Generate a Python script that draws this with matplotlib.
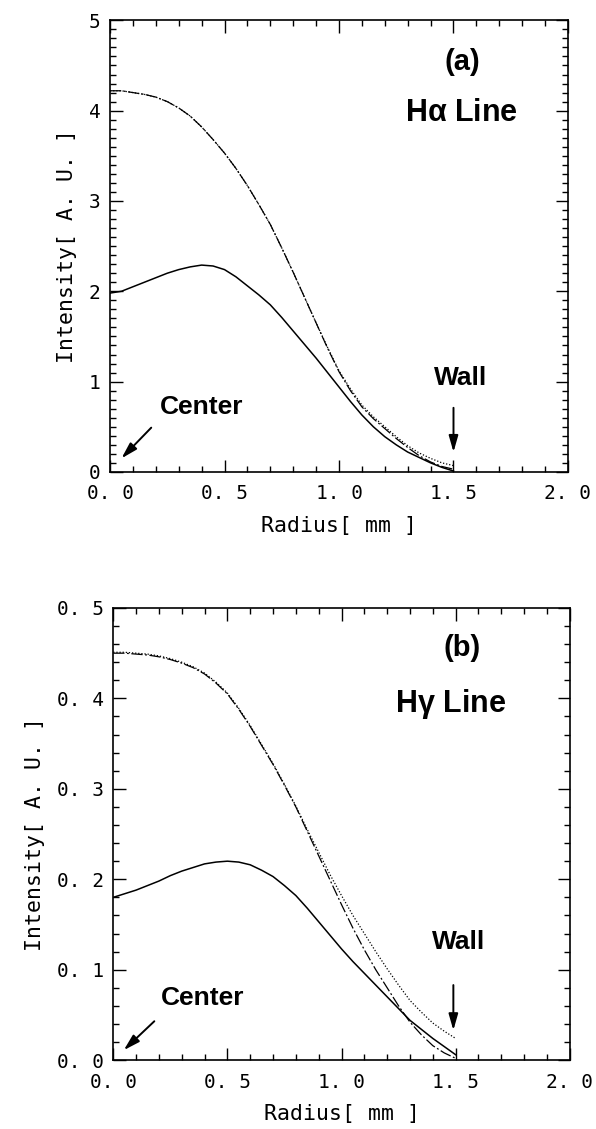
import numpy as np
import matplotlib.pyplot as plt
from matplotlib.ticker import MultipleLocator, FuncFormatter

# radius grid [mm]
radius = [0.00, 0.05, 0.10, 0.15, 0.20, 0.25, 0.30, 0.35, 0.40, 0.45, 0.50,
          0.55, 0.60, 0.65, 0.70, 0.75, 0.80, 0.85, 0.90, 0.95, 1.00,
          1.05, 1.10, 1.15, 1.20, 1.25, 1.30, 1.35, 1.40, 1.45, 1.50]

# (a) H-alpha line
ha_solid = [1.98, 2.00, 2.05, 2.10, 2.15, 2.20, 2.24, 2.27, 2.29, 2.28, 2.24,
            2.16, 2.06, 1.96, 1.85, 1.71, 1.56, 1.41, 1.26, 1.10, 0.94,
            0.78, 0.63, 0.50, 0.39, 0.30, 0.22, 0.16, 0.10, 0.05, 0.01]
ha_dashdot = [4.22, 4.22, 4.20, 4.18, 4.15, 4.10, 4.03, 3.94, 3.82, 3.68, 3.53,
              3.36, 3.17, 2.96, 2.74, 2.48, 2.21, 1.93, 1.65, 1.37, 1.11,
              0.90, 0.72, 0.59, 0.48, 0.37, 0.27, 0.18, 0.11, 0.06, 0.03]
ha_dotted = [4.22, 4.22, 4.20, 4.18, 4.15, 4.10, 4.03, 3.94, 3.82, 3.68, 3.53,
             3.36, 3.17, 2.96, 2.74, 2.48, 2.21, 1.93, 1.65, 1.38, 1.12,
             0.92, 0.74, 0.61, 0.50, 0.39, 0.29, 0.21, 0.15, 0.10, 0.07]

# (b) H-gamma line
hg_solid = [0.180, 0.184, 0.188, 0.193, 0.198, 0.204, 0.209, 0.213, 0.217, 0.219, 0.220,
            0.219, 0.216, 0.210, 0.203, 0.193, 0.182, 0.168, 0.153, 0.138, 0.123,
            0.109, 0.096, 0.083, 0.070, 0.057, 0.044, 0.034, 0.024, 0.015, 0.006]
hg_dashdot = [0.450, 0.450, 0.449, 0.448, 0.446, 0.443, 0.439, 0.434, 0.427, 0.417, 0.405,
              0.388, 0.369, 0.348, 0.327, 0.304, 0.280, 0.253, 0.226, 0.199, 0.172,
              0.146, 0.122, 0.100, 0.080, 0.060, 0.042, 0.028, 0.016, 0.008, 0.002]
hg_dotted = [0.451, 0.451, 0.450, 0.449, 0.447, 0.444, 0.440, 0.435, 0.428, 0.418, 0.406,
             0.389, 0.370, 0.349, 0.328, 0.305, 0.281, 0.255, 0.230, 0.205, 0.182,
             0.160, 0.140, 0.120, 0.101, 0.083, 0.066, 0.053, 0.041, 0.032, 0.024]

mono = 'DejaVu Sans Mono'
bold_font = {'family': 'Liberation Sans', 'weight': 'bold'}
arrow = dict(arrowstyle='-|>,head_length=0.7,head_width=0.2', color='black', lw=1.4,
             mutation_scale=14, shrinkA=0, shrinkB=0)


def style_axes(ax, ymax, ymajor, yminor, yfmt):
    ax.set_xlim(0, 2.0)
    ax.set_ylim(0, ymax)
    ax.xaxis.set_major_locator(MultipleLocator(0.5))
    ax.xaxis.set_minor_locator(MultipleLocator(0.1))
    ax.yaxis.set_major_locator(MultipleLocator(ymajor))
    ax.yaxis.set_minor_locator(MultipleLocator(yminor))
    ax.xaxis.set_major_formatter(FuncFormatter(lambda v, p: ('%.1f' % v).replace('.', '. ')))
    ax.yaxis.set_major_formatter(FuncFormatter(yfmt))
    ax.tick_params(which='both', direction='in', top=True, right=True, width=1.0)
    ax.tick_params(which='major', length=9)
    ax.tick_params(which='minor', length=4)
    ax.tick_params(axis='x', which='major', pad=9)
    ax.tick_params(axis='y', which='major', pad=7)
    for lab in ax.get_xticklabels() + ax.get_yticklabels():
        lab.set_fontfamily(mono)
        lab.set_fontsize(14)
    for s in ax.spines.values():
        s.set_linewidth(1.2)
    ax.set_xlabel('Radius[ mm ]', family=mono, fontsize=15.5, labelpad=9)
    ax.set_ylabel('Intensity[ A. U. ]', family=mono, fontsize=15.5, labelpad=8)


fig = plt.figure(figsize=(5.96, 11.29), dpi=100)

ax1 = fig.add_axes([0.1846, 0.582, 0.7684, 0.400])
ax1.plot(radius, ha_solid, color='black', lw=1.1)
ax1.plot(radius, ha_dashdot, color='black', lw=0.9, linestyle=(0, (9, 2, 1.5, 2)))
ax1.plot(radius, ha_dotted, color='black', lw=0.9, linestyle=(0, (1, 1.5)))
style_axes(ax1, 5, 1, 0.1, lambda v, p: '%d' % v)
ax1.text(1.54, 4.54, '(a)', ha='center', va='center', fontsize=21, **bold_font)
ax1.text(1.535, 3.97, r'H$\mathregular{\alpha}$ Line', ha='center', va='center', fontsize=22,
         family='Liberation Sans', weight='bold')
ax1.text(1.53, 1.04, 'Wall', ha='center', va='center', fontsize=19, **bold_font)
ax1.annotate('', xy=(1.5, 0.22), xytext=(1.5, 0.71), arrowprops=arrow)
ax1.text(0.40, 0.72, 'Center', ha='center', va='center', fontsize=19, **bold_font)
ax1.annotate('', xy=(0.05, 0.15), xytext=(0.18, 0.49), arrowprops=arrow)

ax2 = fig.add_axes([0.190, 0.061, 0.766, 0.4005])
ax2.plot(radius, hg_solid, color='black', lw=1.1)
ax2.plot(radius, hg_dashdot, color='black', lw=0.9, linestyle=(0, (9, 2, 1.5, 2)))
ax2.plot(radius, hg_dotted, color='black', lw=0.9, linestyle=(0, (1, 1.5)))
style_axes(ax2, 0.5, 0.1, 0.02, lambda v, p: ('%.1f' % v).replace('.', '. '))
ax2.text(1.53, 0.456, '(b)', ha='center', va='center', fontsize=21, **bold_font)
ax2.text(1.48, 0.394, r'H$\mathregular{\gamma}$ Line', ha='center', va='center', fontsize=22,
         family='Liberation Sans', weight='bold')
ax2.text(1.514, 0.131, 'Wall', ha='center', va='center', fontsize=19, **bold_font)
ax2.annotate('', xy=(1.49, 0.033), xytext=(1.49, 0.083), arrowprops=arrow)
ax2.text(0.39, 0.069, 'Center', ha='center', va='center', fontsize=19, **bold_font)
ax2.annotate('', xy=(0.046, 0.011), xytext=(0.18, 0.043), arrowprops=arrow)

fig.savefig('out.png', dpi=100)
